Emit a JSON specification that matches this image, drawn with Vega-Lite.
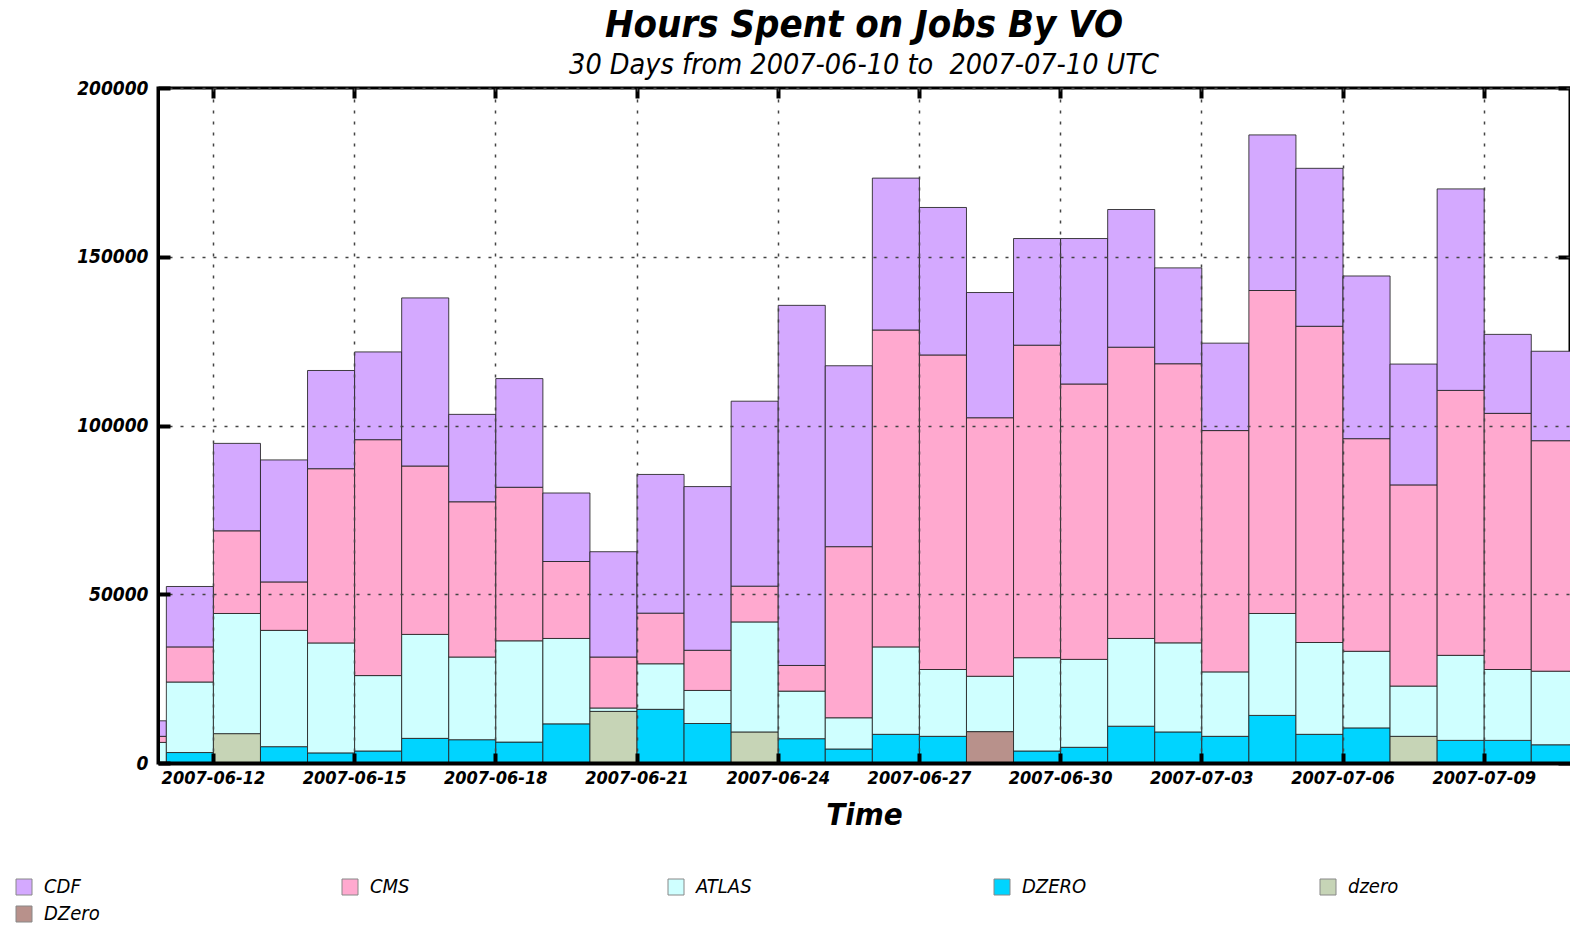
{
 "$schema": "https://vega.github.io/schema/vega-lite/v6.json",
 "width": 1412, "height": 675,
 "autosize": {"type": "none"},
 "padding": {"left": 158, "top": 88, "right": 0, "bottom": 162},
 "background": "white",
 "config": {"font": "DejaVu Sans Condensed, DejaVu Sans, sans-serif", "view": {"stroke": "black", "strokeWidth": 3}},
 "title": {
  "text": "Hours Spent on Jobs By VO",
  "subtitle": "30 Days from 2007-06-10 to \u00a02007-07-10 UTC",
  "anchor": "middle", "fontSize": 38, "fontStyle": "italic", "fontWeight": "bold", "color": "black",
  "subtitleFontSize": 28.5, "subtitleFontStyle": "italic", "subtitleFontWeight": "normal", "subtitleColor": "black",
  "subtitlePadding": 6, "offset": 0
 },
 "datasets": {
  "vos": [
   {"vo": "DZero", "seq": 1}, {"vo": "dzero", "seq": 2}, {"vo": "DZERO", "seq": 3},
   {"vo": "ATLAS", "seq": 4}, {"vo": "CMS", "seq": 5}, {"vo": "CDF", "seq": 6}
  ],
  "hours": [
   {"date": "2007-06-10", "vo": "ATLAS", "hours": 6100}, {"date": "2007-06-10", "vo": "CMS", "hours": 1800}, {"date": "2007-06-10", "vo": "CDF", "hours": 4600},
   {"date": "2007-06-11", "vo": "DZERO", "hours": 3100}, {"date": "2007-06-11", "vo": "ATLAS", "hours": 20900}, {"date": "2007-06-11", "vo": "CMS", "hours": 10400}, {"date": "2007-06-11", "vo": "CDF", "hours": 17900},
   {"date": "2007-06-12", "vo": "dzero", "hours": 8700}, {"date": "2007-06-12", "vo": "ATLAS", "hours": 35600}, {"date": "2007-06-12", "vo": "CMS", "hours": 24500}, {"date": "2007-06-12", "vo": "CDF", "hours": 25900},
   {"date": "2007-06-13", "vo": "DZERO", "hours": 4840}, {"date": "2007-06-13", "vo": "ATLAS", "hours": 34460}, {"date": "2007-06-13", "vo": "CMS", "hours": 14350}, {"date": "2007-06-13", "vo": "CDF", "hours": 36150},
   {"date": "2007-06-14", "vo": "DZERO", "hours": 3000}, {"date": "2007-06-14", "vo": "ATLAS", "hours": 32570}, {"date": "2007-06-14", "vo": "CMS", "hours": 51630}, {"date": "2007-06-14", "vo": "CDF", "hours": 29100},
   {"date": "2007-06-15", "vo": "DZERO", "hours": 3560}, {"date": "2007-06-15", "vo": "ATLAS", "hours": 22340}, {"date": "2007-06-15", "vo": "CMS", "hours": 69900}, {"date": "2007-06-15", "vo": "CDF", "hours": 26000},
   {"date": "2007-06-16", "vo": "DZERO", "hours": 7300}, {"date": "2007-06-16", "vo": "ATLAS", "hours": 30800}, {"date": "2007-06-16", "vo": "CMS", "hours": 49900}, {"date": "2007-06-16", "vo": "CDF", "hours": 49800},
   {"date": "2007-06-17", "vo": "DZERO", "hours": 6900}, {"date": "2007-06-17", "vo": "ATLAS", "hours": 24500}, {"date": "2007-06-17", "vo": "CMS", "hours": 46000}, {"date": "2007-06-17", "vo": "CDF", "hours": 25900},
   {"date": "2007-06-18", "vo": "DZERO", "hours": 6200}, {"date": "2007-06-18", "vo": "ATLAS", "hours": 30000}, {"date": "2007-06-18", "vo": "CMS", "hours": 45500}, {"date": "2007-06-18", "vo": "CDF", "hours": 32200},
   {"date": "2007-06-19", "vo": "DZERO", "hours": 11600}, {"date": "2007-06-19", "vo": "ATLAS", "hours": 25300}, {"date": "2007-06-19", "vo": "CMS", "hours": 22800}, {"date": "2007-06-19", "vo": "CDF", "hours": 20300},
   {"date": "2007-06-20", "vo": "dzero", "hours": 15300}, {"date": "2007-06-20", "vo": "ATLAS", "hours": 1000}, {"date": "2007-06-20", "vo": "CMS", "hours": 15100}, {"date": "2007-06-20", "vo": "CDF", "hours": 31200},
   {"date": "2007-06-21", "vo": "DZERO", "hours": 15900}, {"date": "2007-06-21", "vo": "ATLAS", "hours": 13500}, {"date": "2007-06-21", "vo": "CMS", "hours": 15000}, {"date": "2007-06-21", "vo": "CDF", "hours": 41100},
   {"date": "2007-06-22", "vo": "DZERO", "hours": 11700}, {"date": "2007-06-22", "vo": "ATLAS", "hours": 9800}, {"date": "2007-06-22", "vo": "CMS", "hours": 11900}, {"date": "2007-06-22", "vo": "CDF", "hours": 48500},
   {"date": "2007-06-23", "vo": "dzero", "hours": 9200}, {"date": "2007-06-23", "vo": "ATLAS", "hours": 32600}, {"date": "2007-06-23", "vo": "CMS", "hours": 10600}, {"date": "2007-06-23", "vo": "CDF", "hours": 54800},
   {"date": "2007-06-24", "vo": "DZERO", "hours": 7200}, {"date": "2007-06-24", "vo": "ATLAS", "hours": 14100}, {"date": "2007-06-24", "vo": "CMS", "hours": 7600}, {"date": "2007-06-24", "vo": "CDF", "hours": 106700},
   {"date": "2007-06-25", "vo": "DZERO", "hours": 4150}, {"date": "2007-06-25", "vo": "ATLAS", "hours": 9250}, {"date": "2007-06-25", "vo": "CMS", "hours": 50700}, {"date": "2007-06-25", "vo": "CDF", "hours": 53600},
   {"date": "2007-06-26", "vo": "DZERO", "hours": 8500}, {"date": "2007-06-26", "vo": "ATLAS", "hours": 25900}, {"date": "2007-06-26", "vo": "CMS", "hours": 93900}, {"date": "2007-06-26", "vo": "CDF", "hours": 45000},
   {"date": "2007-06-27", "vo": "DZERO", "hours": 7900}, {"date": "2007-06-27", "vo": "ATLAS", "hours": 19800}, {"date": "2007-06-27", "vo": "CMS", "hours": 93200}, {"date": "2007-06-27", "vo": "CDF", "hours": 43700},
   {"date": "2007-06-28", "vo": "DZero", "hours": 9300}, {"date": "2007-06-28", "vo": "ATLAS", "hours": 16400}, {"date": "2007-06-28", "vo": "CMS", "hours": 76600}, {"date": "2007-06-28", "vo": "CDF", "hours": 37100},
   {"date": "2007-06-29", "vo": "DZERO", "hours": 3560}, {"date": "2007-06-29", "vo": "ATLAS", "hours": 27640}, {"date": "2007-06-29", "vo": "CMS", "hours": 92600}, {"date": "2007-06-29", "vo": "CDF", "hours": 31600},
   {"date": "2007-06-30", "vo": "DZERO", "hours": 4650}, {"date": "2007-06-30", "vo": "ATLAS", "hours": 26050}, {"date": "2007-06-30", "vo": "CMS", "hours": 81600}, {"date": "2007-06-30", "vo": "CDF", "hours": 43100},
   {"date": "2007-07-01", "vo": "DZERO", "hours": 10900}, {"date": "2007-07-01", "vo": "ATLAS", "hours": 26000}, {"date": "2007-07-01", "vo": "CMS", "hours": 86300}, {"date": "2007-07-01", "vo": "CDF", "hours": 40800},
   {"date": "2007-07-02", "vo": "DZERO", "hours": 9200}, {"date": "2007-07-02", "vo": "ATLAS", "hours": 26400}, {"date": "2007-07-02", "vo": "CMS", "hours": 82700}, {"date": "2007-07-02", "vo": "CDF", "hours": 28400},
   {"date": "2007-07-03", "vo": "DZERO", "hours": 7900}, {"date": "2007-07-03", "vo": "ATLAS", "hours": 19100}, {"date": "2007-07-03", "vo": "CMS", "hours": 71500}, {"date": "2007-07-03", "vo": "CDF", "hours": 25900},
   {"date": "2007-07-04", "vo": "DZERO", "hours": 14100}, {"date": "2007-07-04", "vo": "ATLAS", "hours": 30200}, {"date": "2007-07-04", "vo": "CMS", "hours": 95700}, {"date": "2007-07-04", "vo": "CDF", "hours": 46100},
   {"date": "2007-07-05", "vo": "DZERO", "hours": 8500}, {"date": "2007-07-05", "vo": "ATLAS", "hours": 27200}, {"date": "2007-07-05", "vo": "CMS", "hours": 93700}, {"date": "2007-07-05", "vo": "CDF", "hours": 46800},
   {"date": "2007-07-06", "vo": "DZERO", "hours": 10400}, {"date": "2007-07-06", "vo": "ATLAS", "hours": 22700}, {"date": "2007-07-06", "vo": "CMS", "hours": 63000}, {"date": "2007-07-06", "vo": "CDF", "hours": 48200},
   {"date": "2007-07-07", "vo": "dzero", "hours": 7900}, {"date": "2007-07-07", "vo": "ATLAS", "hours": 14900}, {"date": "2007-07-07", "vo": "CMS", "hours": 59600}, {"date": "2007-07-07", "vo": "CDF", "hours": 35800},
   {"date": "2007-07-08", "vo": "DZERO", "hours": 6700}, {"date": "2007-07-08", "vo": "ATLAS", "hours": 25200}, {"date": "2007-07-08", "vo": "CMS", "hours": 78500}, {"date": "2007-07-08", "vo": "CDF", "hours": 59700},
   {"date": "2007-07-09", "vo": "DZERO", "hours": 6700}, {"date": "2007-07-09", "vo": "ATLAS", "hours": 21000}, {"date": "2007-07-09", "vo": "CMS", "hours": 75900}, {"date": "2007-07-09", "vo": "CDF", "hours": 23400},
   {"date": "2007-07-10", "vo": "DZERO", "hours": 5400}, {"date": "2007-07-10", "vo": "ATLAS", "hours": 21800}, {"date": "2007-07-10", "vo": "CMS", "hours": 68300}, {"date": "2007-07-10", "vo": "CDF", "hours": 26500}
  ]
 },
 "data": {"name": "hours"},
 "transform": [{"lookup": "vo", "from": {"data": {"name": "vos"}, "key": "vo", "fields": ["seq"]}}],
 "layer": [
  {
   "mark": {"type": "bar", "stroke": "#222", "strokeWidth": 1, "strokeOpacity": 0.85, "clip": true, "binSpacing": 0},
   "encoding": {
    "x": {
     "field": "date", "type": "temporal", "timeUnit": "utcyearmonthdate",
     "scale": {"type": "utc", "domain": [{"year": 2007, "month": 6, "date": 10, "hours": 20, "utc": true}, {"year": 2007, "month": 7, "date": 10, "hours": 20, "utc": true}]},
     "axis": {
      "orient": "bottom",
      "values": [
       {"year": 2007, "month": 6, "date": 12, "utc": true}, {"year": 2007, "month": 6, "date": 15, "utc": true},
       {"year": 2007, "month": 6, "date": 18, "utc": true}, {"year": 2007, "month": 6, "date": 21, "utc": true},
       {"year": 2007, "month": 6, "date": 24, "utc": true}, {"year": 2007, "month": 6, "date": 27, "utc": true},
       {"year": 2007, "month": 6, "date": 30, "utc": true}, {"year": 2007, "month": 7, "date": 3, "utc": true},
       {"year": 2007, "month": 7, "date": 6, "utc": true}, {"year": 2007, "month": 7, "date": 9, "utc": true}
      ],
      "format": "%Y-%m-%d",
      "labelFontSize": 18, "labelFontStyle": "italic", "labelFontWeight": "bold", "labelColor": "black",
      "labelPadding": 16, "labelFlush": false, "labelOverlap": false,
      "tickSize": -10, "tickWidth": 4, "tickColor": "black",
      "domainColor": "black", "domainWidth": 4,
      "grid": true, "gridColor": "#444", "gridDash": [3, 8], "gridWidth": 1.5,
      "title": "Time", "titleFontSize": 31, "titleFontStyle": "italic", "titleFontWeight": "bold", "titleColor": "black", "titlePadding": 13,
      "zindex": 1
     }
    },
    "y": {
     "field": "hours", "type": "quantitative", "stack": "zero",
     "scale": {"domain": [0, 200000], "nice": false},
     "axis": {
      "orient": "left", "values": [0, 50000, 100000, 150000, 200000], "format": "d",
      "labelFontSize": 19, "labelFontStyle": "italic", "labelFontWeight": "bold", "labelColor": "black", "labelPadding": 22,
      "tickSize": -12, "tickWidth": 4, "tickColor": "black",
      "domainColor": "black", "domainWidth": 3,
      "grid": true, "gridColor": "#444", "gridDash": [3, 8], "gridWidth": 1.5,
      "title": null, "zindex": 1
     }
    },
    "color": {
     "field": "vo", "type": "nominal",
     "scale": {"domain": ["CDF", "CMS", "ATLAS", "DZERO", "dzero", "DZero"], "range": ["#D4A9FF", "#FFA9CF", "#CFFFFF", "#00D4FF", "#C6D4B6", "#B8918B"]},
     "legend": {
      "orient": "none", "legendX": -144, "legendY": 789, "direction": "horizontal", "columns": 5, "gridAlign": "all",
      "columnPadding": 231, "rowPadding": 7, "symbolType": "square", "symbolSize": 256,
      "symbolStrokeColor": "#888", "symbolStrokeWidth": 1,
      "labelFontSize": 20, "labelFontStyle": "italic", "labelColor": "black", "labelOffset": 10, "title": null
     }
    },
    "order": {"field": "seq", "type": "quantitative"}
   }
  },
  {
   "mark": {"type": "bar", "opacity": 0},
   "encoding": {
    "x": {
     "field": "date", "type": "temporal", "timeUnit": "utcyearmonthdate",
     "scale": {"type": "utc", "domain": [{"year": 2007, "month": 6, "date": 10, "hours": 20, "utc": true}, {"year": 2007, "month": 7, "date": 10, "hours": 20, "utc": true}]},
     "axis": {
      "orient": "top",
      "values": [
       {"year": 2007, "month": 6, "date": 12, "utc": true}, {"year": 2007, "month": 6, "date": 15, "utc": true},
       {"year": 2007, "month": 6, "date": 18, "utc": true}, {"year": 2007, "month": 6, "date": 21, "utc": true},
       {"year": 2007, "month": 6, "date": 24, "utc": true}, {"year": 2007, "month": 6, "date": 27, "utc": true},
       {"year": 2007, "month": 6, "date": 30, "utc": true}, {"year": 2007, "month": 7, "date": 3, "utc": true},
       {"year": 2007, "month": 7, "date": 6, "utc": true}, {"year": 2007, "month": 7, "date": 9, "utc": true}
      ],
      "labels": false, "domain": false, "grid": false, "title": null,
      "tickSize": -10, "tickWidth": 4, "tickColor": "black"
     }
    },
    "y": {
     "field": "hours", "type": "quantitative", "stack": null,
     "scale": {"domain": [0, 200000], "nice": false},
     "axis": {
      "orient": "right", "values": [0, 50000, 100000, 150000, 200000],
      "labels": false, "domain": false, "grid": false, "title": null,
      "tickSize": -12, "tickWidth": 4, "tickColor": "black"
     }
    }
   }
  }
 ],
 "resolve": {"axis": {"x": "independent", "y": "independent"}}
}
